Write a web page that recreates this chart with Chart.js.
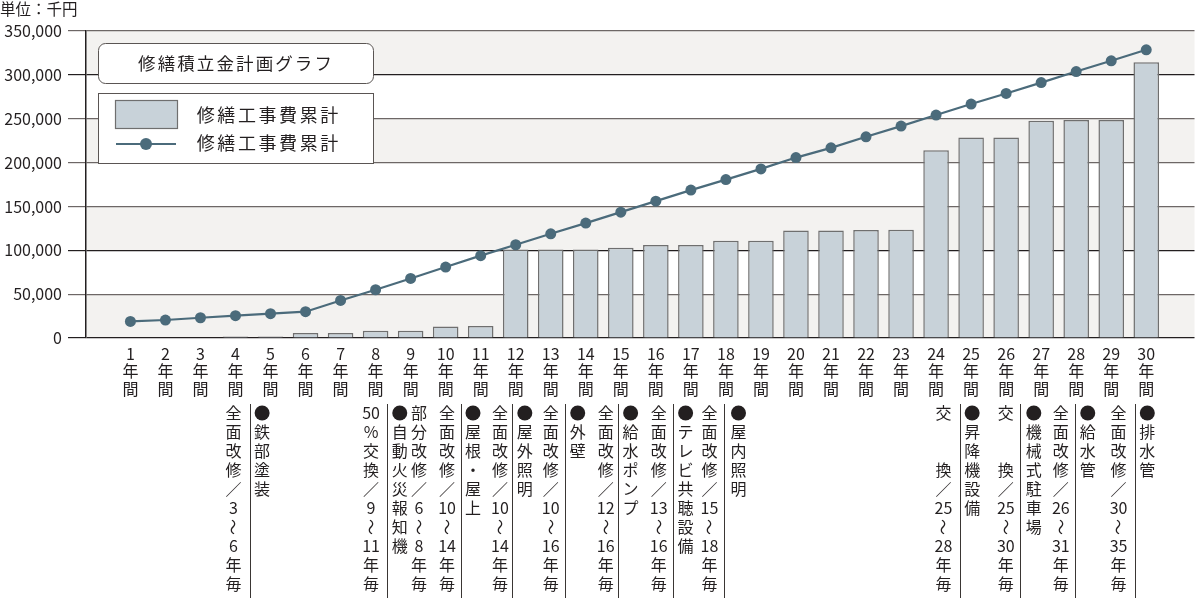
<!DOCTYPE html>
<html lang="ja">
<head>
<meta charset="utf-8">
<script src="https://cdn.jsdelivr.net/npm/chart.js@4.4.1/dist/chart.umd.min.js"></script>
<style>
  html, body { margin: 0; padding: 0; background: #fff; }
  #wrap { width: 1200px; height: 602px; }
</style>
</head>
<body>
<div id="wrap"><canvas id="chart" width="1200" height="602"></canvas></div>
<script>
const years = [1, 2, 3, 4, 5, 6, 7, 8, 9, 10, 11, 12, 13, 14, 15, 16, 17, 18, 19, 20, 21, 22, 23, 24, 25, 26, 27, 28, 29, 30];
const barCumulative = [0, 0, 0, 1800, 1800, 5600, 5600, 8200, 8200, 13000, 13600, 101000, 101000, 101000, 103000, 106000, 106000, 111000, 111000, 122500, 122500, 123000, 123500, 214000, 228600, 228600, 247800, 248500, 248500, 314500];
const lineCumulative = [18900, 20500, 23100, 25400, 27700, 30000, 42800, 55000, 67900, 80900, 93900, 106300, 118800, 131000, 143500, 156000, 168600, 180600, 192800, 205700, 216800, 229400, 241600, 254200, 266700, 278800, 291200, 303800, 316000, 328600];
const yMax = 350000;
const yStep = 50000;
const unitLabel = "単位：千円";
const chartTitle = "修繕積立金計画グラフ";
const seriesLabel = "修繕工事費累計";
const yearSuffix = ["年", "間"];

// vertical note columns under the year axis
const noteTexts = [
  "全面改修／3〜6年毎", "●鉄部塗装",
  "50%交換／9〜11年毎", "●自動火災報知機", "部分改修／6〜8年毎", "全面改修／10〜14年毎", "●屋根・屋上",
  "全面改修／10〜14年毎", "●屋外照明", "全面改修／10〜16年毎", "●外壁", "全面改修／12〜16年毎",
  "●給水ポンプ", "全面改修／13〜16年毎", "●テレビ共聴設備", "全面改修／15〜18年毎", "●屋内照明",
  "交　　換／25〜28年毎", "●昇降機設備", "交　　換／25〜30年毎", "●機械式駐車場",
  "全面改修／26〜31年毎", "●給水管", "全面改修／30〜35年毎", "●排水管",
];
const noteX = [3.94, 4.76, 7.87, 8.69, 9.24, 10.04, 10.78, 11.55, 12.26, 13.0, 13.77, 14.57, 15.28, 16.08, 16.85, 17.53, 18.36,
  24.21, 25.03, 25.99, 26.79, 27.56, 28.33, 29.21, 30.03];
const separatorX = [4.41, 8.33, 10.45, 11.9, 13.41, 14.92, 16.49, 17.95, 24.67, 26.4, 27.97, 29.67];

const FONT = '"Noto Sans CJK JP", "Noto Sans", sans-serif';
const INK = "#231f20";
const BAR_FILL = "#c8d2d9";
const BAR_EDGE = "#6f6f6f";
const LINE_COLOR = "#4b6b7b";

function spacedText(ctx, text, cx, cy, step) {
  const chars = Array.from(text);
  chars.forEach((ch, i) => {
    ctx.fillText(ch, cx + (i - (chars.length - 1) / 2) * step, cy);
  });
}

const decor = {
  id: "decor",
  beforeDraw(chart) {
    const { ctx, chartArea: a, scales } = chart;
    const y = scales.y;
    ctx.save();
    ctx.fillStyle = "#f3f2f0";
    for (let v = 0; v < yMax; v += 2 * yStep) {
      const top = y.getPixelForValue(v + yStep);
      const bottom = y.getPixelForValue(v);
      ctx.fillRect(a.left, top, a.right - a.left, bottom - top);
    }
    ctx.restore();
  },
  afterDraw(chart) {
    const { ctx, scales } = chart;
    const x = scales.x;
    const bar = chart.data.datasets[0];
    const line = chart.data.datasets[1];
    ctx.save();
    ctx.fillStyle = INK;
    ctx.textBaseline = "middle";

    ctx.font = `15.5px ${FONT}`;
    ctx.textAlign = "left";
    ctx.fillText(unitLabel, 0, 9);

    // title box
    ctx.beginPath();
    ctx.roundRect(98.5, 43.5, 275, 40, 7);
    ctx.fillStyle = "#fff";
    ctx.fill();
    ctx.strokeStyle = "#5a5553";
    ctx.lineWidth = 1;
    ctx.stroke();
    ctx.fillStyle = INK;
    ctx.textAlign = "center";
    ctx.font = `17.5px ${FONT}`;
    spacedText(ctx, chartTitle, 235, 63.5, 19.6);

    // legend box
    ctx.fillStyle = "#fff";
    ctx.fillRect(98.5, 93.5, 275, 70);
    ctx.strokeRect(98.5, 93.5, 275, 70);
    ctx.fillStyle = bar.backgroundColor;
    ctx.fillRect(115.5, 100.5, 62, 28);
    ctx.strokeStyle = bar.borderColor;
    ctx.lineWidth = 1.2;
    ctx.strokeRect(115.5, 100.5, 62, 28);
    ctx.strokeStyle = line.borderColor;
    ctx.lineWidth = 2.2;
    ctx.beginPath();
    ctx.moveTo(116, 144);
    ctx.lineTo(176, 144);
    ctx.stroke();
    ctx.fillStyle = line.borderColor;
    ctx.beginPath();
    ctx.arc(146, 144, 6, 0, Math.PI * 2);
    ctx.fill();
    ctx.fillStyle = INK;
    ctx.font = `18px ${FONT}`;
    spacedText(ctx, bar.label, 267.5, 115, 20.6);
    spacedText(ctx, line.label, 267.5, 143.5, 20.6);

    // separators
    ctx.strokeStyle = "#3a3634";
    ctx.lineWidth = 1;
    separatorX.forEach((v) => {
      const px = Math.round(x.getPixelForValue(v)) + 0.5;
      ctx.beginPath();
      ctx.moveTo(px, 404);
      ctx.lineTo(px, 598);
      ctx.stroke();
    });

    // vertical note columns
    ctx.font = `16px ${FONT}`;
    ctx.textAlign = "center";
    noteTexts.forEach((text, i) => {
      const cx = x.getPixelForValue(noteX[i]);
      const tokens = text.match(/\d+|[\s\S]/gu);
      tokens.forEach((tok, k) => {
        const cy = 413 + k * 19;
        if (tok === "　") return;
        if (tok === "●") {
          ctx.beginPath();
          ctx.arc(cx, cy, 7.5, 0, Math.PI * 2);
          ctx.fill();
        } else if (tok === "〜") {
          ctx.save();
          ctx.translate(cx, cy);
          ctx.rotate(Math.PI / 2);
          ctx.fillText(tok, 0, 0);
          ctx.restore();
        } else {
          ctx.fillText(tok, cx, cy);
        }
      });
    });
    ctx.restore();
  },
};

const strongLines = [0, 100000, 300000];

new Chart(document.getElementById("chart"), {
  type: "bar",
  data: {
    labels: years,
    datasets: [
      {
        type: "bar",
        label: seriesLabel,
        data: barCumulative,
        backgroundColor: BAR_FILL,
        borderColor: BAR_EDGE,
        borderWidth: 1.5,
        categoryPercentage: 1,
        barPercentage: 0.73,
        order: 2,
      },
      {
        type: "line",
        label: seriesLabel,
        data: lineCumulative,
        borderColor: LINE_COLOR,
        backgroundColor: LINE_COLOR,
        borderWidth: 2.2,
        pointRadius: 5.5,
        pointBorderWidth: 0,
        pointBackgroundColor: LINE_COLOR,
        tension: 0,
        order: 1,
      },
    ],
  },
  options: {
    responsive: false,
    animation: false,
    layout: { padding: { top: 31, left: 0, right: 0, bottom: 0 } },
    plugins: {
      legend: { display: false },
      tooltip: { enabled: false },
    },
    scales: {
      x: {
        type: "linear",
        min: 0.26,
        max: 30.85,
        grid: { display: false, drawTicks: false },
        border: { display: false },
        afterFit: (scale) => { scale.height = 264; },
        ticks: {
          stepSize: 1,
          autoSkip: false,
          maxRotation: 0,
          includeBounds: false,
          padding: 7,
          color: INK,
          font: { family: FONT, size: 16, lineHeight: 1.1 },
          callback: (v) => (Number.isInteger(v) && v >= 1 && v <= 30 ? [String(v), ...yearSuffix] : ""),
        },
      },
      y: {
        min: 0,
        max: yMax,
        afterFit: (scale) => { scale.width = 86; },
        border: { display: true, color: INK, width: 1.5 },
        grid: {
          color: (c) => (strongLines.includes(c.tick.value) ? INK : "#6d6766"),
          lineWidth: 1.2,
          tickLength: 18,
        },
        ticks: {
          stepSize: yStep,
          padding: 6,
          color: INK,
          font: { family: FONT, size: 16 },
          callback: (v) => v.toLocaleString("en-US"),
        },
      },
    },
  },
  plugins: [decor],
});
</script>
</body>
</html>
